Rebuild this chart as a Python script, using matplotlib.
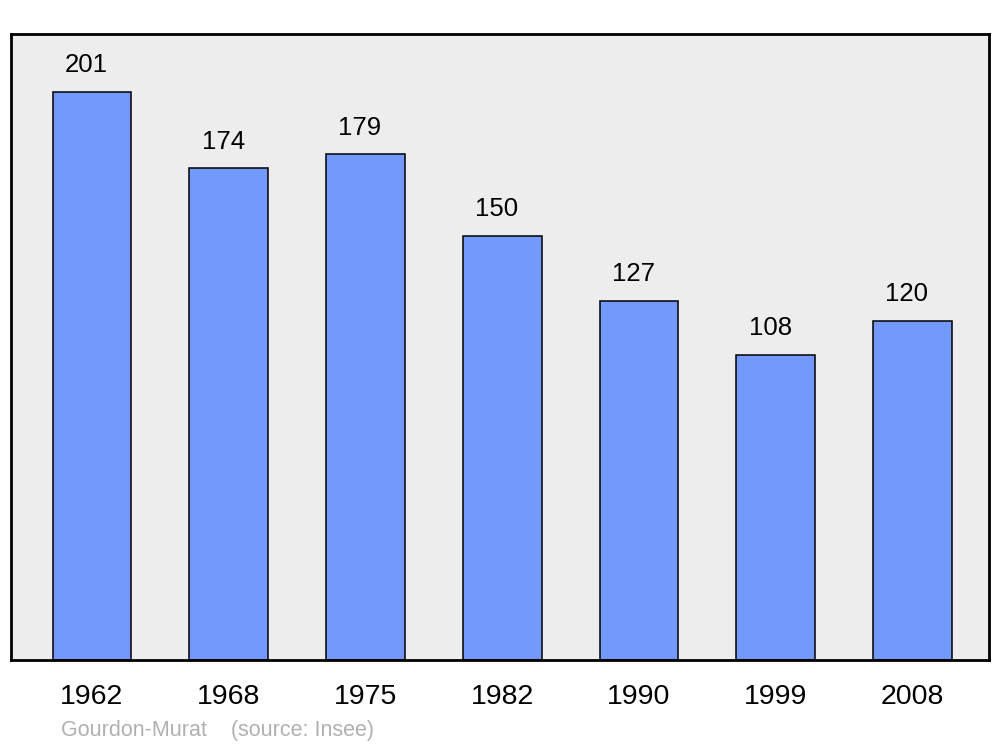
import matplotlib
matplotlib.use("Agg")
import matplotlib.pyplot as plt

years = ["1962", "1968", "1975", "1982", "1990", "1999", "2008"]
population = [201, 174, 179, 150, 127, 108, 120]

plt.rcParams["font.family"] = ["Liberation Sans", "DejaVu Sans"]

fig = plt.figure(figsize=(10, 7.47), dpi=100)
ax = fig.add_axes([0.011, 0.1165, 0.978, 0.838])
ax.set_facecolor("#ededed")

x = range(len(years))
ax.bar(x, population, width=0.575, color="#7399ff", edgecolor="black", linewidth=1.1, zorder=2)

for xi, v in zip(x, population):
    ax.annotate(str(v), (xi, v), xytext=(-4, 10.5), textcoords="offset points",
                ha="center", va="bottom", fontsize=18.5)

ax.set_xlim(-0.592, 6.56)
ax.set_ylim(0, 221.5)
ax.set_xticks(list(x))
ax.set_xticklabels(years, fontsize=20.5)
ax.tick_params(axis="x", length=0, pad=17)
ax.set_yticks([])
for s in ax.spines.values():
    s.set_linewidth(2)

fig.text(0.061, 0.022, "Gourdon-Murat    (source: Insee)", fontsize=15.5, color="#b0b0b0",
         ha="left", va="center")

fig.savefig("out.png", dpi=100)
